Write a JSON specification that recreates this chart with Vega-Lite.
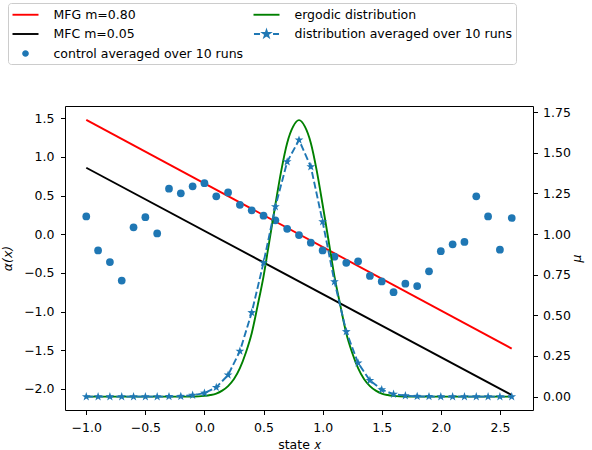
{
  "$schema": "https://vega.github.io/schema/vega-lite/v6.json",
  "autosize": "none",
  "width": 468,
  "height": 304,
  "padding": {"left": 65, "top": 106, "right": 59, "bottom": 40},
  "background": "white",
  "data": {
    "values": [
      {"series": "MFG m=0.80", "x": -1.0, "y": 1.48},
      {"series": "MFG m=0.80", "x": 2.6, "y": -1.48},
      {"series": "MFC m=0.05", "x": -1.0, "y": 0.86},
      {"series": "MFC m=0.05", "x": 2.6, "y": -2.08},
      {"series": "control averaged over 10 runs", "x": -1.0, "y": 0.23},
      {"series": "control averaged over 10 runs", "x": -0.9, "y": -0.21},
      {"series": "control averaged over 10 runs", "x": -0.8, "y": -0.36},
      {"series": "control averaged over 10 runs", "x": -0.7, "y": -0.6},
      {"series": "control averaged over 10 runs", "x": -0.6, "y": 0.09},
      {"series": "control averaged over 10 runs", "x": -0.5, "y": 0.22},
      {"series": "control averaged over 10 runs", "x": -0.4, "y": 0.01},
      {"series": "control averaged over 10 runs", "x": -0.3, "y": 0.59},
      {"series": "control averaged over 10 runs", "x": -0.2, "y": 0.53},
      {"series": "control averaged over 10 runs", "x": -0.1, "y": 0.62},
      {"series": "control averaged over 10 runs", "x": 0.0, "y": 0.66},
      {"series": "control averaged over 10 runs", "x": 0.1, "y": 0.49},
      {"series": "control averaged over 10 runs", "x": 0.2, "y": 0.54},
      {"series": "control averaged over 10 runs", "x": 0.3, "y": 0.38},
      {"series": "control averaged over 10 runs", "x": 0.4, "y": 0.31},
      {"series": "control averaged over 10 runs", "x": 0.5, "y": 0.24},
      {"series": "control averaged over 10 runs", "x": 0.6, "y": 0.18},
      {"series": "control averaged over 10 runs", "x": 0.7, "y": 0.07},
      {"series": "control averaged over 10 runs", "x": 0.8, "y": -0.01},
      {"series": "control averaged over 10 runs", "x": 0.9, "y": -0.11},
      {"series": "control averaged over 10 runs", "x": 1.0, "y": -0.21},
      {"series": "control averaged over 10 runs", "x": 1.1, "y": -0.29},
      {"series": "control averaged over 10 runs", "x": 1.2, "y": -0.37},
      {"series": "control averaged over 10 runs", "x": 1.3, "y": -0.35},
      {"series": "control averaged over 10 runs", "x": 1.4, "y": -0.54},
      {"series": "control averaged over 10 runs", "x": 1.5, "y": -0.61},
      {"series": "control averaged over 10 runs", "x": 1.6, "y": -0.75},
      {"series": "control averaged over 10 runs", "x": 1.7, "y": -0.64},
      {"series": "control averaged over 10 runs", "x": 1.8, "y": -0.67},
      {"series": "control averaged over 10 runs", "x": 1.9, "y": -0.48},
      {"series": "control averaged over 10 runs", "x": 2.0, "y": -0.22},
      {"series": "control averaged over 10 runs", "x": 2.1, "y": -0.13},
      {"series": "control averaged over 10 runs", "x": 2.2, "y": -0.1},
      {"series": "control averaged over 10 runs", "x": 2.3, "y": 0.49},
      {"series": "control averaged over 10 runs", "x": 2.4, "y": 0.23},
      {"series": "control averaged over 10 runs", "x": 2.5, "y": -0.2},
      {"series": "control averaged over 10 runs", "x": 2.6, "y": 0.21},
      {"series": "ergodic distribution", "x": -1.0, "y": 0},
      {"series": "ergodic distribution", "x": -0.6, "y": 0},
      {"series": "ergodic distribution", "x": -0.3, "y": 0},
      {"series": "ergodic distribution", "x": -0.15, "y": 0.0005},
      {"series": "ergodic distribution", "x": -0.1, "y": 0.001},
      {"series": "ergodic distribution", "x": -0.05, "y": 0.002},
      {"series": "ergodic distribution", "x": 0.0, "y": 0.005},
      {"series": "ergodic distribution", "x": 0.05, "y": 0.01},
      {"series": "ergodic distribution", "x": 0.1, "y": 0.019},
      {"series": "ergodic distribution", "x": 0.15, "y": 0.037},
      {"series": "ergodic distribution", "x": 0.2, "y": 0.065},
      {"series": "ergodic distribution", "x": 0.25, "y": 0.108},
      {"series": "ergodic distribution", "x": 0.3, "y": 0.175},
      {"series": "ergodic distribution", "x": 0.35, "y": 0.27},
      {"series": "ergodic distribution", "x": 0.4, "y": 0.39},
      {"series": "ergodic distribution", "x": 0.45, "y": 0.56},
      {"series": "ergodic distribution", "x": 0.5, "y": 0.74},
      {"series": "ergodic distribution", "x": 0.55, "y": 0.96},
      {"series": "ergodic distribution", "x": 0.6, "y": 1.18},
      {"series": "ergodic distribution", "x": 0.65, "y": 1.39},
      {"series": "ergodic distribution", "x": 0.7, "y": 1.56},
      {"series": "ergodic distribution", "x": 0.75, "y": 1.66},
      {"series": "ergodic distribution", "x": 0.8, "y": 1.7},
      {"series": "ergodic distribution", "x": 0.85, "y": 1.66},
      {"series": "ergodic distribution", "x": 0.9, "y": 1.56},
      {"series": "ergodic distribution", "x": 0.95, "y": 1.39},
      {"series": "ergodic distribution", "x": 1.0, "y": 1.18},
      {"series": "ergodic distribution", "x": 1.05, "y": 0.96},
      {"series": "ergodic distribution", "x": 1.1, "y": 0.74},
      {"series": "ergodic distribution", "x": 1.15, "y": 0.56},
      {"series": "ergodic distribution", "x": 1.2, "y": 0.39},
      {"series": "ergodic distribution", "x": 1.25, "y": 0.27},
      {"series": "ergodic distribution", "x": 1.3, "y": 0.175},
      {"series": "ergodic distribution", "x": 1.35, "y": 0.108},
      {"series": "ergodic distribution", "x": 1.4, "y": 0.065},
      {"series": "ergodic distribution", "x": 1.45, "y": 0.037},
      {"series": "ergodic distribution", "x": 1.5, "y": 0.019},
      {"series": "ergodic distribution", "x": 1.55, "y": 0.01},
      {"series": "ergodic distribution", "x": 1.6, "y": 0.005},
      {"series": "ergodic distribution", "x": 1.65, "y": 0.002},
      {"series": "ergodic distribution", "x": 1.7, "y": 0.001},
      {"series": "ergodic distribution", "x": 1.75, "y": 0.0005},
      {"series": "ergodic distribution", "x": 1.9, "y": 0},
      {"series": "ergodic distribution", "x": 2.2, "y": 0},
      {"series": "ergodic distribution", "x": 2.6, "y": 0},
      {"series": "distribution averaged over 10 runs", "x": -1.0, "y": 0},
      {"series": "distribution averaged over 10 runs", "x": -0.9, "y": 0},
      {"series": "distribution averaged over 10 runs", "x": -0.8, "y": 0},
      {"series": "distribution averaged over 10 runs", "x": -0.7, "y": 0},
      {"series": "distribution averaged over 10 runs", "x": -0.6, "y": 0},
      {"series": "distribution averaged over 10 runs", "x": -0.5, "y": 0},
      {"series": "distribution averaged over 10 runs", "x": -0.4, "y": 0},
      {"series": "distribution averaged over 10 runs", "x": -0.3, "y": 0.001},
      {"series": "distribution averaged over 10 runs", "x": -0.2, "y": 0.002},
      {"series": "distribution averaged over 10 runs", "x": -0.1, "y": 0.009},
      {"series": "distribution averaged over 10 runs", "x": 0.0, "y": 0.022},
      {"series": "distribution averaged over 10 runs", "x": 0.1, "y": 0.057},
      {"series": "distribution averaged over 10 runs", "x": 0.2, "y": 0.133},
      {"series": "distribution averaged over 10 runs", "x": 0.3, "y": 0.28},
      {"series": "distribution averaged over 10 runs", "x": 0.4, "y": 0.517},
      {"series": "distribution averaged over 10 runs", "x": 0.5, "y": 0.824},
      {"series": "distribution averaged over 10 runs", "x": 0.6, "y": 1.168},
      {"series": "distribution averaged over 10 runs", "x": 0.7, "y": 1.444},
      {"series": "distribution averaged over 10 runs", "x": 0.8, "y": 1.578},
      {"series": "distribution averaged over 10 runs", "x": 0.9, "y": 1.414},
      {"series": "distribution averaged over 10 runs", "x": 1.0, "y": 1.076},
      {"series": "distribution averaged over 10 runs", "x": 1.1, "y": 0.707},
      {"series": "distribution averaged over 10 runs", "x": 1.2, "y": 0.4},
      {"series": "distribution averaged over 10 runs", "x": 1.3, "y": 0.207},
      {"series": "distribution averaged over 10 runs", "x": 1.4, "y": 0.1},
      {"series": "distribution averaged over 10 runs", "x": 1.5, "y": 0.043},
      {"series": "distribution averaged over 10 runs", "x": 1.6, "y": 0.015},
      {"series": "distribution averaged over 10 runs", "x": 1.7, "y": 0.006},
      {"series": "distribution averaged over 10 runs", "x": 1.8, "y": 0.002},
      {"series": "distribution averaged over 10 runs", "x": 1.9, "y": 0.001},
      {"series": "distribution averaged over 10 runs", "x": 2.0, "y": 0},
      {"series": "distribution averaged over 10 runs", "x": 2.1, "y": 0},
      {"series": "distribution averaged over 10 runs", "x": 2.2, "y": 0},
      {"series": "distribution averaged over 10 runs", "x": 2.3, "y": 0},
      {"series": "distribution averaged over 10 runs", "x": 2.4, "y": 0},
      {"series": "distribution averaged over 10 runs", "x": 2.5, "y": 0},
      {"series": "distribution averaged over 10 runs", "x": 2.6, "y": 0}
    ]
  },
  "layer": [
    {
      "encoding": {
        "x": {
          "field": "x", "type": "quantitative",
          "scale": {"domain": [-1.18, 2.78], "nice": false, "zero": false},
          "axis": {"values": [-1, -0.5, 0, 0.5, 1, 1.5, 2, 2.5], "format": ".1f", "title": "state 𝑥", "labelPadding": 7, "titlePadding": 4}
        },
        "y": {
          "field": "y", "type": "quantitative",
          "scale": {"domain": [-2.274, 1.659], "nice": false, "zero": false},
          "axis": {"orient": "left", "values": [-2, -1.5, -1, -0.5, 0, 0.5, 1, 1.5], "format": ".1f", "title": "α(x)", "titleFontStyle": "italic", "labelPadding": 6.5, "titlePadding": 9}
        },
        "color": {
          "field": "series", "type": "nominal",
          "scale": {
            "domain": ["MFG m=0.80", "MFC m=0.05", "control averaged over 10 runs", "ergodic distribution", "distribution averaged over 10 runs"],
            "range": ["#ff0000", "#000000", "#1f77b4", "#008000", "#1f77b4"]
          },
          "legend": {"title": null, "orient": "none", "legendX": -57, "legendY": -103, "columns": 2}
        }
      },
      "layer": [
        {"transform": [{"filter": "datum.series === 'MFG m=0.80'"}], "mark": {"type": "line", "strokeWidth": 1.9}},
        {"transform": [{"filter": "datum.series === 'MFC m=0.05'"}], "mark": {"type": "line", "strokeWidth": 1.9}},
        {"transform": [{"filter": "datum.series === 'control averaged over 10 runs'"}], "mark": {"type": "point", "filled": true, "shape": "circle", "size": 60, "opacity": 1}},
        {
          "transform": [{"filter": "false"}],
          "mark": {"type": "point", "filled": true, "opacity": 1},
          "encoding": {
            "shape": {
              "field": "series", "type": "nominal",
              "scale": {
                "domain": ["MFG m=0.80", "MFC m=0.05", "control averaged over 10 runs", "ergodic distribution", "distribution averaged over 10 runs"],
                "range": [
                  "M-1.857,0H1.857",
                  "M-1.857,0H1.857",
                  "M-0.34,0A0.34,0.34,0,1,0,0.34,0A0.34,0.34,0,1,0,-0.34,0Z",
                  "M-1.857,0H1.857",
                  "M-1.79,0H-0.93M0.93,0H1.79M0,-0.5L0.112,-0.154L0.476,-0.155L0.181,0.059L0.294,0.405L0,0.19L-0.294,0.405L-0.181,0.059L-0.476,-0.155L-0.112,-0.154Z"
                ]
              },
              "legend": {"title": null, "orient": "none", "legendX": -57, "legendY": -103, "columns": 2}
            },
            "stroke": {
              "field": "series", "type": "nominal",
              "scale": {
                "domain": ["MFG m=0.80", "MFC m=0.05", "control averaged over 10 runs", "ergodic distribution", "distribution averaged over 10 runs"],
                "range": ["#ff0000", "#000000", "#1f77b4", "#008000", "#1f77b4"]
              },
              "legend": {"title": null, "orient": "none", "legendX": -57, "legendY": -103, "columns": 2}
            }
          }
        }
      ]
    },
    {
      "encoding": {
        "x": {"field": "x", "type": "quantitative", "scale": {"domain": [-1.18, 2.78], "nice": false, "zero": false}},
        "y": {
          "field": "y", "type": "quantitative",
          "scale": {"domain": [-0.082, 1.787], "nice": false, "zero": false},
          "axis": {"orient": "right", "values": [0, 0.25, 0.5, 0.75, 1, 1.25, 1.5, 1.75], "format": ".2f", "title": "μ", "titleFontStyle": "italic", "titleAngle": 270, "labelPadding": 5, "titlePadding": 13}
        },
        "color": {"field": "series", "type": "nominal"}
      },
      "layer": [
        {"transform": [{"filter": "datum.series === 'ergodic distribution'"}], "mark": {"type": "line", "strokeWidth": 1.9, "interpolate": "monotone"}},
        {"transform": [{"filter": "datum.series === 'distribution averaged over 10 runs'"}], "mark": {"type": "line", "strokeWidth": 1.9, "strokeDash": [7, 3]}},
        {"transform": [{"filter": "datum.series === 'distribution averaged over 10 runs'"}], "mark": {"type": "point", "filled": true, "opacity": 1, "size": 85, "shape": "M0,-1L0.235,-0.324L0.951,-0.309L0.38,0.124L0.588,0.809L0,0.4L-0.588,0.809L-0.38,0.124L-0.951,-0.309L-0.235,-0.324Z"}}
      ]
    }
  ],
  "resolve": {"scale": {"y": "independent"}},
  "config": {
    "view": {"stroke": "black", "strokeWidth": 1},
    "font": "DejaVu Sans",
    "axis": {
      "domain": false, "grid": false,
      "tickColor": "black", "tickSize": 4.5, "tickWidth": 1,
      "labelFont": "DejaVu Sans", "labelFontSize": 12.5, "labelColor": "black", "labelPadding": 3,
      "titleFont": "DejaVu Sans", "titleFontSize": 12.5, "titleFontWeight": "normal", "titleColor": "black"
    },
    "legend": {
      "padding": 3.5, "strokeColor": "#cccccc", "fillColor": "white", "cornerRadius": 3,
      "symbolSize": 196, "symbolOffset": 6, "labelOffset": 20, "rowPadding": 4.5, "columnPadding": 6,
      "symbolStrokeWidth": 1.9, "symbolOpacity": 1,
      "labelFont": "DejaVu Sans", "labelFontSize": 12.5, "labelColor": "black", "labelLimit": 400
    }
  }
}
